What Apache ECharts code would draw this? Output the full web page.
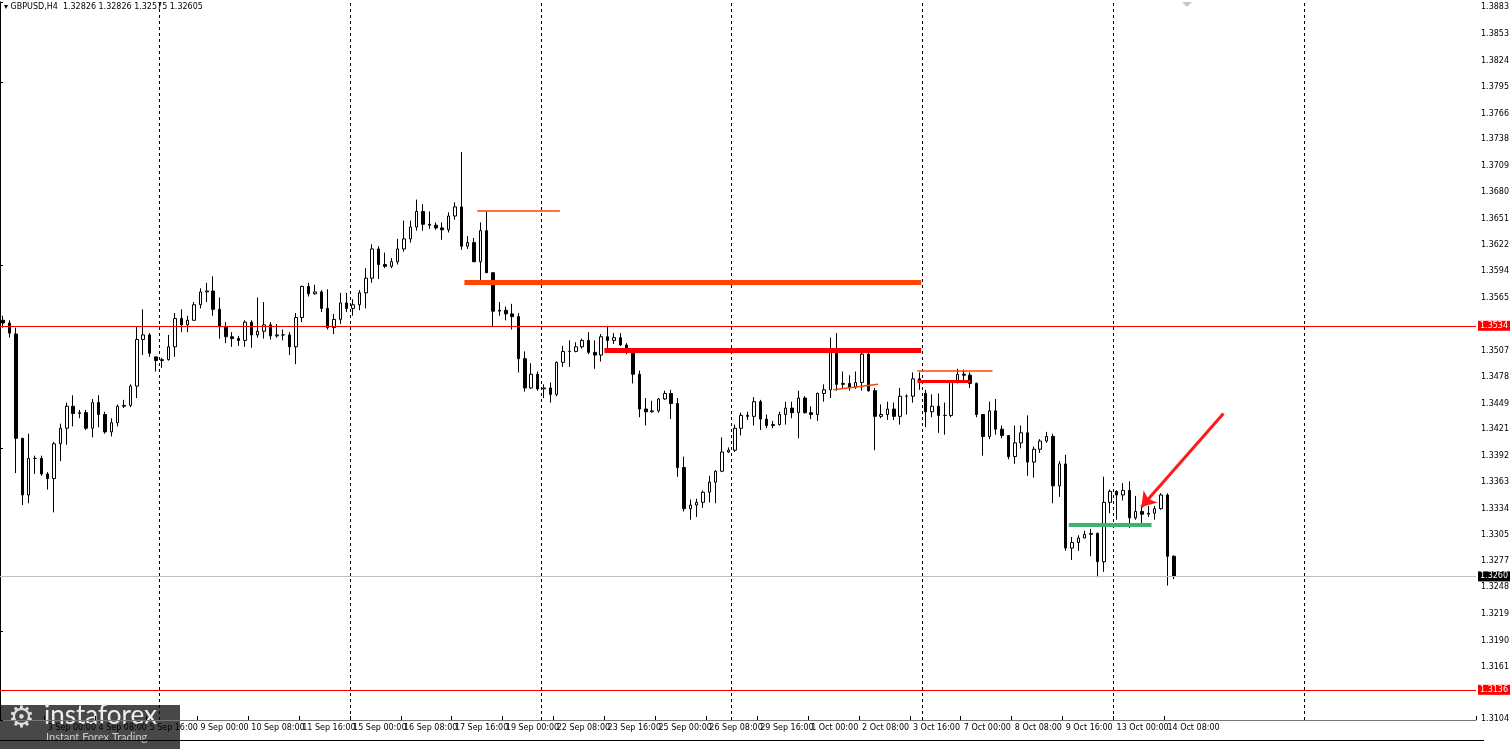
<!DOCTYPE html>
<html>
<head>
<meta charset="utf-8">
<script src="https://cdn.jsdelivr.net/npm/echarts@6/dist/echarts.min.js"></script>
<style>
  html, body { margin: 0; padding: 0; background: #fff; }
  #chart { width: 1512px; height: 749px; }
</style>
</head>
<body>
<div id="chart"></div>
<script>
// GBPUSD H4 bars, first bar = 1 Sep 20:00
const opens = [
  1.3540,1.3537,1.3525,1.3411,1.3349,1.3389,1.3389,1.3372,1.3367,1.3405,
  1.3422,1.3446,1.3438,1.3439,1.3422,1.3450,1.3437,1.3418,1.3428,1.3446,
  1.3447,1.3468,1.3519,1.3524,1.3500,1.3496,1.3497,1.3511,1.3542,1.3535,
  1.3540,1.3557,1.3571,1.3572,1.3552,1.3533,1.3522,1.3520,1.3518,1.3538,
  1.3524,1.3528,1.3535,1.3523,1.3524,1.3524,1.3511,1.3543,1.3577,1.3569,
  1.3571,1.3553,1.3532,1.3541,1.3559,1.3553,1.3557,1.3570,1.3586,1.3618,
  1.3601,1.3599,1.3604,1.3618,1.3629,1.3642,1.3659,1.3645,1.3644,1.3641,
  1.3639,1.3654,1.3664,1.3621,1.3625,1.3604,1.3638,1.3592,1.3550,1.3551,
  1.3547,1.3544,1.3498,1.3466,1.3481,1.3465,1.3466,1.3459,1.3494,1.3506,
  1.3506,1.3511,1.3518,1.3505,1.3502,1.3522,1.3518,1.3521,1.3513,1.3507,
  1.3481,1.3443,1.3440,1.3441,1.3454,1.3460,1.3449,1.3379,1.3334,1.3338,
  1.3341,1.3352,1.3363,1.3375,1.3396,1.3398,1.3422,1.3436,1.3435,1.3451,
  1.3432,1.3425,1.3426,1.3437,1.3444,1.3439,1.3455,1.3439,1.3437,1.3460,
  1.3464,1.3508,1.3470,1.3471,1.3467,1.3472,1.3503,1.3463,1.3435,1.3437,
  1.3443,1.3435,1.3457,1.3457,1.3476,1.3460,1.3440,1.3446,1.3436,1.3436,
  1.3472,1.3481,1.3480,1.3471,1.3437,1.3413,1.3441,1.3421,1.3414,1.3391,
  1.3406,1.3417,1.3385,1.3399,1.3408,1.3413,1.3359,1.3383,1.3291,1.3297,
  1.3302,1.3306,1.3307,1.3276,1.3341,1.3353,1.3349,1.3354,1.3324,1.3331,
  1.3328,1.3329,1.3334,1.3349,1.3282
];
const closes = [
  1.3537,1.3526,1.3411,1.3349,1.3389,1.3389,1.3372,1.3367,1.3405,1.3422,
  1.3446,1.3438,1.3439,1.3422,1.3450,1.3437,1.3418,1.3428,1.3446,1.3447,
  1.3468,1.3519,1.3524,1.3504,1.3496,1.3497,1.3511,1.3542,1.3535,1.3540,
  1.3557,1.3571,1.3572,1.3552,1.3533,1.3522,1.3520,1.3518,1.3538,1.3524,
  1.3528,1.3535,1.3523,1.3524,1.3524,1.3511,1.3543,1.3577,1.3569,1.3571,
  1.3553,1.3532,1.3541,1.3559,1.3553,1.3557,1.3570,1.3586,1.3618,1.3601,
  1.3599,1.3604,1.3618,1.3629,1.3642,1.3659,1.3645,1.3644,1.3641,1.3639,
  1.3654,1.3664,1.3621,1.3625,1.3604,1.3638,1.3592,1.3550,1.3551,1.3547,
  1.3544,1.3498,1.3466,1.3481,1.3465,1.3466,1.3459,1.3494,1.3506,1.3506,
  1.3511,1.3518,1.3505,1.3502,1.3522,1.3518,1.3521,1.3513,1.3507,1.3481,
  1.3443,1.3440,1.3441,1.3454,1.3460,1.3449,1.3379,1.3334,1.3338,1.3341,
  1.3352,1.3363,1.3375,1.3396,1.3398,1.3422,1.3436,1.3435,1.3451,1.3432,
  1.3425,1.3426,1.3437,1.3444,1.3439,1.3455,1.3439,1.3437,1.3460,1.3464,
  1.3508,1.3470,1.3471,1.3467,1.3472,1.3503,1.3463,1.3435,1.3437,1.3443,
  1.3435,1.3457,1.3457,1.3476,1.3473,1.3440,1.3446,1.3436,1.3436,1.3472,
  1.3481,1.3480,1.3471,1.3437,1.3413,1.3441,1.3421,1.3414,1.3391,1.3406,
  1.3417,1.3385,1.3399,1.3408,1.3413,1.3359,1.3383,1.3291,1.3297,1.3302,
  1.3306,1.3307,1.3276,1.3341,1.3353,1.3349,1.3354,1.3324,1.3331,1.3328,
  1.3329,1.3334,1.3349,1.3282,1.3260
];
const lows = [
  1.3532,1.3521,1.3373,1.3338,1.3340,1.3372,1.3370,1.3355,1.3330,1.3386,
  1.3404,1.3424,1.3433,1.3420,1.3412,1.3423,1.3416,1.3413,1.3424,1.3444,
  1.3445,1.3455,1.3502,1.3500,1.3484,1.3488,1.3496,1.3500,1.3527,1.3527,
  1.3540,1.3553,1.3560,1.3545,1.3520,1.3515,1.3511,1.3512,1.3511,1.3510,
  1.3521,1.3520,1.3519,1.3521,1.3518,1.3502,1.3492,1.3538,1.3566,1.3568,
  1.3549,1.3530,1.3525,1.3536,1.3549,1.3545,1.3551,1.3553,1.3581,1.3585,
  1.3597,1.3597,1.3601,1.3615,1.3625,1.3638,1.3638,1.3640,1.3639,1.3628,
  1.3636,1.3650,1.3617,1.3618,1.3604,1.3584,1.3592,1.3533,1.3545,1.3540,
  1.3530,1.3483,1.3462,1.3465,1.3463,1.3455,1.3450,1.3457,1.3489,1.3489,
  1.3505,1.3509,1.3503,1.3487,1.3495,1.3506,1.3514,1.3512,1.3503,1.3471,
  1.3434,1.3425,1.3439,1.3439,1.3453,1.3432,1.3369,1.3331,1.3322,1.3325,
  1.3335,1.3341,1.3340,1.3374,1.3395,1.3396,1.3414,1.3431,1.3425,1.3420,
  1.3422,1.3422,1.3425,1.3426,1.3433,1.3411,1.3438,1.3432,1.3430,1.3451,
  1.3455,1.3463,1.3466,1.3463,1.3465,1.3463,1.3462,1.3398,1.3433,1.3431,
  1.3431,1.3426,1.3437,1.3450,1.3464,1.3423,1.3434,1.3417,1.3415,1.3434,
  1.3471,1.3474,1.3466,1.3434,1.3392,1.3410,1.3415,1.3411,1.3388,1.3383,
  1.3400,1.3370,1.3368,1.3395,1.3406,1.3340,1.3347,1.3288,1.3278,1.3288,
  1.3302,1.3282,1.3259,1.3265,1.3329,1.3322,1.3343,1.3313,1.3322,1.3318,
  1.3325,1.3322,1.3333,1.3250,1.3257
];
const highs = [
  1.3545,1.3540,1.3532,1.3411,1.3416,1.3392,1.3392,1.3374,1.3407,1.3427,
  1.3450,1.3458,1.3442,1.3442,1.3454,1.3458,1.3440,1.3433,1.3448,1.3453,
  1.3470,1.3533,1.3552,1.3526,1.3500,1.3499,1.3524,1.3548,1.3552,1.3545,
  1.3560,1.3575,1.3581,1.3588,1.3565,1.3538,1.3527,1.3523,1.3540,1.3540,
  1.3565,1.3560,1.3538,1.3536,1.3530,1.3527,1.3548,1.3578,1.3581,1.3579,
  1.3573,1.3574,1.3547,1.3570,1.3570,1.3563,1.3573,1.3597,1.3623,1.3621,
  1.3614,1.3608,1.3629,1.3649,1.3649,1.3672,1.3667,1.3659,1.3647,1.3647,
  1.3658,1.3669,1.3724,1.3632,1.3630,1.3647,1.3659,1.3592,1.3560,1.3555,
  1.3558,1.3548,1.3506,1.3493,1.3484,1.3470,1.3472,1.3495,1.3512,1.3518,
  1.3516,1.3520,1.3527,1.3518,1.3525,1.3534,1.3526,1.3526,1.3515,1.3509,
  1.3485,1.3455,1.3452,1.3455,1.3463,1.3464,1.3455,1.3391,1.3344,1.3345,
  1.3354,1.3370,1.3376,1.3412,1.3401,1.3426,1.3439,1.3440,1.3456,1.3453,
  1.3437,1.3430,1.3440,1.3451,1.3451,1.3463,1.3457,1.3446,1.3461,1.3470,
  1.3521,1.3526,1.3484,1.3480,1.3484,1.3508,1.3506,1.3466,1.3448,1.3451,
  1.3450,1.3466,1.3459,1.3483,1.3483,1.3464,1.3459,1.3460,1.3450,1.3474,
  1.3487,1.3486,1.3483,1.3472,1.3437,1.3451,1.3454,1.3425,1.3414,1.3425,
  1.3425,1.3436,1.3402,1.3410,1.3418,1.3416,1.3386,1.3393,1.3303,1.3305,
  1.3310,1.3312,1.3308,1.3369,1.3355,1.3354,1.3362,1.3364,1.3348,1.3336,
  1.3337,1.3337,1.3351,1.3351,1.3283
];

const priceTicks = ['1.3883','1.3853','1.3824','1.3795','1.3766','1.3738','1.3709','1.3680','1.3651',
  '1.3622','1.3594','1.3565','1.3507','1.3478','1.3449','1.3421','1.3392','1.3363','1.3334',
  '1.3305','1.3277','1.3248','1.3219','1.3190','1.3161','1.3104'];
const weekStarts = [25, 55, 85, 115, 145, 175, 205];
const totalSlots = 232;

// bar times: 6 bars per weekday, starting Mon 1 Sep 20:00 (UTC maths to avoid DST)
const months = ['Jan','Feb','Mar','Apr','May','Jun','Jul','Aug','Sep','Oct','Nov','Dec'];
const categories = [];
let t = Date.UTC(2025, 8, 1, 20);
for (let i = 0; i < totalSlots; i++) {
    const d = new Date(t);
    const hh = String(d.getUTCHours()).padStart(2, '0');
    categories.push(d.getUTCDate() + ' ' + months[d.getUTCMonth()] + ' ' + hh + ':00');
    t += 4 * 3600 * 1000;
    while ([0, 6].includes(new Date(t).getUTCDay())) t += 24 * 3600 * 1000;
}

const candles = opens.map((o, i) => [o, closes[i], lows[i], highs[i]]);

const chart = echarts.init(document.getElementById('chart'));
const axisFont = { fontFamily: 'DejaVu Sans', fontSize: 8, color: '#000' };
const showLabel = (i) => i % 8 === 7 && i < 185;

// horizontal level across the whole plot, with a price box on the axis
function hLine(y, color, label, bg) {
    return [
        { coord: [0, y], lineStyle: { color: color, width: 1, type: 'solid' },
          label: { show: true, position: 'end', formatter: label, distance: 2,
                   color: '#fff', backgroundColor: bg, padding: [1, 2], fontSize: 8, fontFamily: 'DejaVu Sans' } },
        { coord: [totalSlots, y] }
    ];
}
function seg(x1, y1, x2, y2, color, width) {
    return [
        { coord: [x1, y1], lineStyle: { color: color, width: width, type: 'solid' } },
        { coord: [x2, y2] }
    ];
}

chart.setOption({
    animation: false,
    backgroundColor: '#fff',
    grid: { left: 0, right: 28, top: 2, bottom: 29 },
    xAxis: [{
        type: 'category',
        data: categories,
        boundaryGap: true,
        axisLine: { lineStyle: { color: '#777' } },
        axisTick: { show: true, inside: true, interval: showLabel, length: 4, lineStyle: { color: '#000' } },
        axisLabel: Object.assign({
            interval: 0, align: 'left', margin: 4, hideOverlap: false,
            formatter: (v, i) => showLabel(i) ? v : ''
        }, axisFont),
        splitLine: { show: false }
    }, {
        type: 'value', min: 0, max: totalSlots, show: false
    }],
    yAxis: {
        type: 'value',
        position: 'right',
        min: 1.3103, max: 1.3888,
        axisLine: { show: true, lineStyle: { color: '#000' } },
        axisTick: { show: true, length: 3, lineStyle: { color: '#000' } },
        axisLabel: Object.assign({
            customValues: priceTicks.map(Number),
            formatter: (v) => v.toFixed(4), margin: 5
        }, axisFont),
        splitLine: { show: false }
    },
    series: [{
        type: 'candlestick',
        data: candles,
        barWidth: 3,
        itemStyle: { color: '#fff', color0: '#000', borderColor: '#000', borderColor0: '#000', borderWidth: 1 }
    }, {
        type: 'line',
        xAxisIndex: 1,
        data: [],
        markLine: {
            silent: true, symbol: 'none', label: { show: false }, precision: 5,
            data: [
                hLine(1.3534, '#ff0000', '1.3534', '#ff0000'),
                hLine(1.3136, '#ff0000', '1.3136', '#ff0000'),
                hLine(1.3260, '#c0c0c0', '1.3260', '#000')
            ].concat(weekStarts.map(w => ({ xAxis: w, lineStyle: { color: '#000', type: [3, 3], width: 1 } }))).concat([
                seg(75, 1.3660, 88, 1.3660, '#ff4500', 1.5),
                seg(73, 1.3582, 144.8, 1.3582, '#ff4500', 5),
                seg(95, 1.3507, 144.8, 1.3507, '#ff0000', 5),
                seg(131, 1.3464, 138, 1.3470, '#ff4500', 1.5),
                seg(144.2, 1.3485, 156, 1.3485, '#ff4500', 1.5),
                seg(144.2, 1.3473, 152.5, 1.3473, '#ff0000', 3),
                seg(168, 1.3316, 181, 1.3316, '#3cb371', 4)
            ])
        }
    }, {
        type: 'line',
        xAxisIndex: 1,
        data: [],
        markLine: {
            silent: true, symbol: ['none', 'arrow'], symbolSize: 14, label: { show: false }, precision: 5,
            data: [seg(192.3, 1.3438, 179.4, 1.3336, '#ff1a1a', 3)]
        }
    }],
    graphic: [
        { type: 'text', left: 4, top: 3, style: { text: '▾ GBPUSD,H4  1.32826 1.32826 1.32575 1.32605', fontSize: 8, fontFamily: 'DejaVu Sans', fill: '#000' } },
        { type: 'polygon', shape: { points: [[1182, 2], [1192, 2], [1187, 7]] }, style: { fill: '#c8c8c8' } },
        { type: 'rect', shape: { x: 0, y: 705, width: 180, height: 44 }, style: { fill: 'rgba(40,40,40,0.85)' } },
        { type: 'text', left: 8, top: 704, style: { text: '⚙', fontSize: 30, fill: '#ddd' } },
        { type: 'text', left: 44, top: 703, style: { text: 'instaforex', fontSize: 26, fontFamily: 'Lato', fill: '#eee' } },
        { type: 'text', left: 46, top: 732, style: { text: 'Instant Forex Trading', fontSize: 11, fontFamily: 'Lato', fill: '#ccc' } },
        { type: 'rect', shape: { x: 0, y: 740, width: 1484, height: 1 }, style: { fill: '#000' } }
    ]
});

window.addEventListener('resize', () => chart.resize());
</script>
</body>
</html>
